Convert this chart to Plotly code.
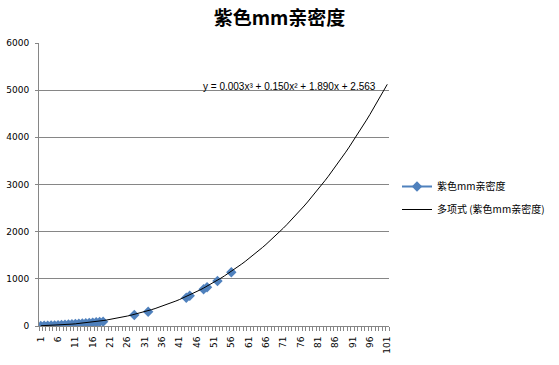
import plotly.graph_objects as go

title_text = "紫色mm亲密度"
series_name = "紫色mm亲密度"
trend_name = "多项式 (紫色mm亲密度)"
equation_text = "y = 0.003x³ + 0.150x² + 1.890x + 2.563"

# category index -> value (None = blank cell)
categories = list(range(1, 57))
values = [3, 6, 8, 11, 14, 18, 22, 26, 31, 36, 42, 48, 54, 60, 66, 72, 78, 85, 92,
          None, None, None, None, None, None, None, None, 233, None, None, None, 303,
          None, None, None, None, None, None, None, None, None, None, 600, 642,
          None, None, None, 778, 820, None, None, 953, None, None, None, 1138]

# cubic trendline coefficients (a, b, c, d) as drawn, forecast to category 101
trend_coef = [0.0033, 0.150, 1.890, 2.563]
trend_x = list(range(1, 102))
trend_y = [trend_coef[0] * x ** 3 + trend_coef[1] * x ** 2 + trend_coef[2] * x + trend_coef[3] for x in trend_x]

tick_vals = list(range(1, 102, 5))
y_ticks = [0, 1000, 2000, 3000, 4000, 5000, 6000]

font_fam = "DejaVu Sans, Noto Sans CJK SC"
grid_col = "#868686"

fig = go.Figure()
fig.add_trace(go.Scatter(
    x=categories, y=values, name=series_name, mode="lines+markers",
    connectgaps=False, legendgroup="a",
    line=dict(color="#4F81BD", width=2),
    marker=dict(symbol="diamond", size=8, color="#4F81BD"),
))
fig.add_trace(go.Scatter(
    x=trend_x, y=trend_y, name=trend_name, mode="lines", legendgroup="b",
    line=dict(color="black", width=1),
))

fig.update_layout(
    width=559, height=365,
    margin=dict(l=39, r=170, t=43, b=39),
    paper_bgcolor="white", plot_bgcolor="white",
    font=dict(family=font_fam, size=9, color="black"),
    title=dict(text="<b>" + title_text + "</b>", x=0.5, xref="container", xanchor="center",
               y=1 - 18 / 365, yref="container", yanchor="middle",
               font=dict(family="Noto Sans CJK SC, DejaVu Sans", size=19, color="black")),
    showlegend=True,
    legend=dict(x=397 / 559, y=1 - 172 / 365, xref="container", yref="container",
                xanchor="left", yanchor="top", tracegroupgap=4,
                font=dict(family="Noto Sans CJK SC, DejaVu Sans", size=10),
                bgcolor="rgba(0,0,0,0)"),
    annotations=[dict(text=equation_text, x=98.24, y=5000, xref="x", yref="y",
                      xanchor="right", yanchor="bottom", showarrow=False, yshift=-4,
                      font=dict(family="Liberation Sans", size=10, color="black"))],
)
fig.update_xaxes(
    range=[0.5, 101.5], tickmode="array", tickvals=tick_vals, automargin=False,
    ticktext=[str(t) for t in tick_vals], tickangle=-90,
    showgrid=False, zeroline=False, showline=True, linecolor=grid_col, linewidth=1,
    ticks="", ticklabelstandoff=6,
    minor=dict(ticks="outside", dtick=1, tick0=0.5, ticklen=4, tickcolor=grid_col, showgrid=False),
    tickfont=dict(family="DejaVu Sans", size=9),
)
fig.update_yaxes(
    range=[0, 6000], tickvals=y_ticks, showgrid=True, gridcolor=grid_col, gridwidth=1,
    zeroline=False, showline=True, linecolor=grid_col, linewidth=1, automargin=False,
    ticks="outside", ticklen=3, tickcolor=grid_col, ticklabelstandoff=4,
    tickfont=dict(family="DejaVu Sans", size=9),
)

fig.write_html("out.html", config={"displayModeBar": False},
               post_script="document.body.style.margin='0';")
